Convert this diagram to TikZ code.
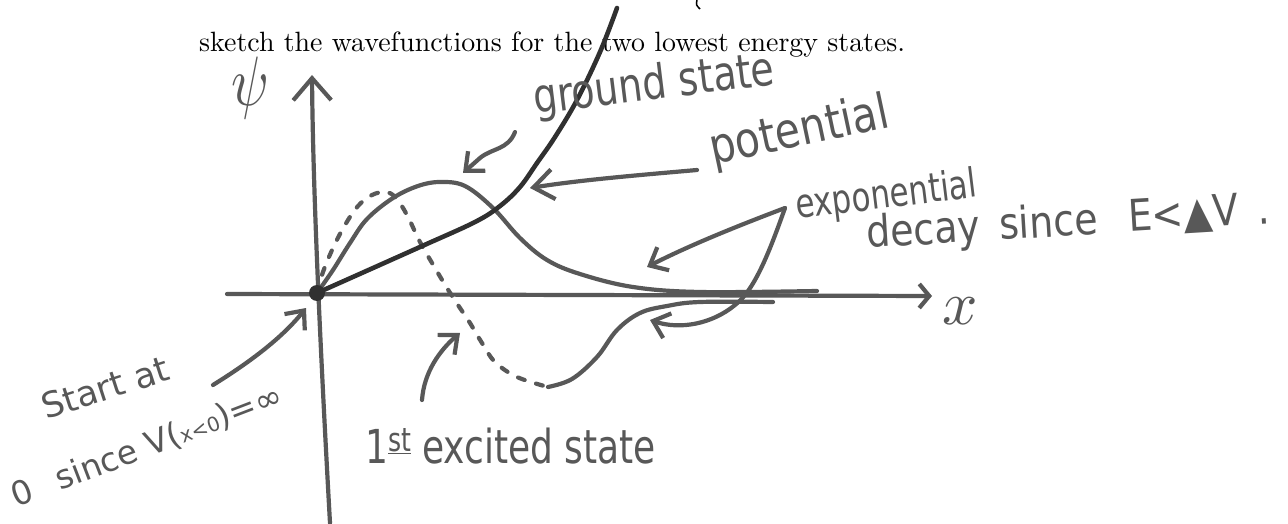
\documentclass[tikz,border=0pt]{standalone}
\usepackage{fontspec}
\usepackage{graphicx}
\newfontfamily\hand{DejaVu Sans}
\usetikzlibrary{arrows.meta}
\definecolor{pencol}{RGB}{88,88,88}
\definecolor{darkpen}{RGB}{48,48,48}
\tikzset{
  pen/.style={draw=pencol, line width=4.2pt, line cap=round, line join=round},
  dashpen/.style={pen, dash pattern=on 7pt off 12pt},
  barbS/.style={-{Straight Barb[length=15pt,width=26pt]}},
  barbM/.style={-{Straight Barb[length=20pt,width=30pt]}},
  barbL/.style={-{Straight Barb[length=22pt,width=38pt]}},
  handtext/.style={text=pencol, inner sep=0pt},
}
\newcommand{\tallhand}[2]{\scalebox{1}[#1]{#2}}
\begin{document}
\begin{tikzpicture}[x=1pt,y=-1pt]
\useasboundingbox (0,0) rectangle (1288,524);

% printed text
\node[anchor=base west, inner sep=0pt] (task) at (199,52)
  {\scalebox{2.79}{sketch the wavefunctions for the two lowest energy states.}};
\draw[black, line width=1.5pt] (697,0) .. controls (696,5) .. (700,9);

% axes
\coordinate (origin) at (317,293);
\coordinate (ybot) at (330,523);
\coordinate (ytop) at (312,75);
\coordinate (xleft) at (227,294);
\coordinate (xright) at (932,296);
\draw[pen, barbL] (ybot) .. controls (322,380) and (313,200) .. (ytop);
\draw[pen, -{Straight Barb[length=10pt,width=24pt]}] (xleft) -- (xright);

\node[handtext] (psi) at (250,88) {\scalebox{5.5}[7]{$\psi$}};
\node[handtext] (xlab) at (960,311) {\scalebox{6.2}{$x$}};

% ground state
\draw[pen] plot[smooth, tension=0.6] coordinates {(317,293) (333,270) (350,243) (367,219) (393,198) (418,186) (440,182) (465,186) (493,208) (520,238) (547,260) (580,274) (633,287) (700,292) (817,291)};

% first excited state
\draw[dashpen] plot[smooth, tension=0.6] coordinates {(317,293) (323,272) (333,248) (345,225) (358,206) (372,195) (386,192) (396,198) (407,215) (420,242) (435,268) (447,288) (458,305) (470,323) (482,343) (495,362) (517,377) (548,387)};
\draw[pen] plot[smooth, tension=0.6] coordinates {(548,387) (572,379) (597,357) (617,330) (640,313) (667,306) (700,302) (773,302)};

% potential
\draw[pen, draw=darkpen, line width=4.6pt] plot[smooth, tension=0.6] coordinates {(317,293) (420,247) (475,222) (500,206) (520,187) (537,163) (555,137) (577,100) (600,52) (617,8)};

\fill[darkpen] (origin) circle (8);

% labels
\node[handtext, anchor=base west, rotate=7, font=\hand\fontsize{38}{40}\selectfont] (gs) at (535,114) {\tallhand{1.25}{ground state}};
\node[handtext, anchor=base west, rotate=12, font=\hand\fontsize{41}{44}\selectfont] (pot) at (713,165) {\tallhand{1.2}{potential}};
\node[handtext, anchor=base west, rotate=7, font=\hand\fontsize{31}{34}\selectfont] (expo) at (797,219) {\tallhand{1.3}{exponential}};
\node[handtext, anchor=base west, rotate=3.5, font=\hand\fontsize{38}{42}\selectfont] (decay) at (867,248) {\tallhand{1.15}{decay\hspace{0.5em}since\hspace{0.8em}E<▲V\hspace{0.5em}.}};
\node[handtext, anchor=base west, rotate=18, font=\hand\fontsize{35}{38}\selectfont] (start) at (46,420) {Start at};
\node[handtext, anchor=base west, rotate=21, font=\hand\fontsize{33}{36}\selectfont] (since) at (16,508) {0\hspace{0.8em}since V({\fontsize{20}{22}\selectfont x<0})=∞};
\node[handtext, anchor=base west, font=\hand\fontsize{36}{40}\selectfont] (exc) at (365,463) {\tallhand{1.3}{1\textsuperscript{\underline{st}}\hspace{0.3em}excited state}};

% annotation arrows
\coordinate (gsFrom) at (515,132);
\coordinate (gsTip) at (463,173);
\draw[pen, barbS] (gsFrom) .. controls (508,150) and (492,148) .. (480,158) -- (gsTip);

\coordinate (potFrom) at (697,170);
\coordinate (potTip) at (530,188);
\draw[pen, barbM] (potFrom) .. controls (640,175) and (580,180) .. (potTip);

\coordinate (expFrom) at (785,208);
\coordinate (expTipA) at (647,267);
\coordinate (expTipB) at (650,320);
\draw[pen, barbS] (expFrom) .. controls (740,225) and (690,245) .. (expTipA);
\draw[pen, barbS] (expFrom) .. controls (770,250) and (755,290) .. (735,305) .. controls (712,324) and (680,330) .. (expTipB);

\coordinate (stFrom) at (213,385);
\coordinate (stTip) at (306,308);
\draw[pen, barbS] (stFrom) .. controls (250,362) and (282,338) .. (stTip);

\coordinate (exFrom) at (422,400);
\coordinate (exTip) at (460,333);
\draw[pen, barbS] (exFrom) .. controls (424,372) and (440,350) .. (exTip);
\end{tikzpicture}
\end{document}
